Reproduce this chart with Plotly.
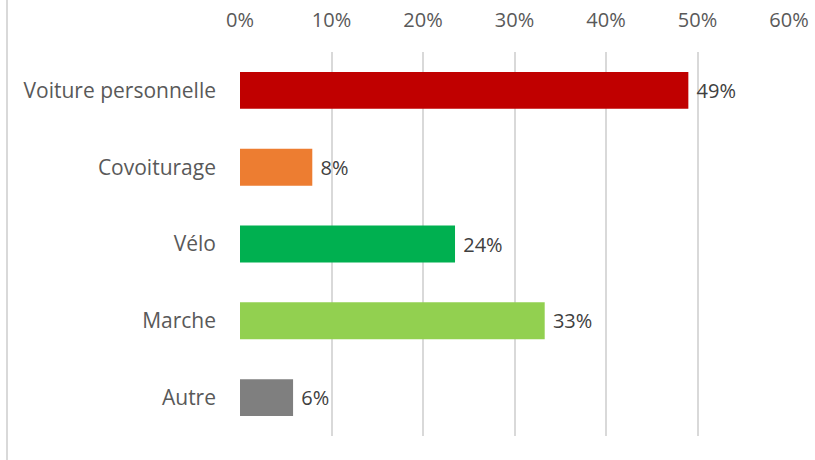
import plotly.graph_objects as go

categories = ["Voiture personnelle", "Covoiturage", "Vélo", "Marche", "Autre"]
shares = [0.49, 0.079, 0.235, 0.333, 0.058]
share_labels = ["49%", "8%", "24%", "33%", "6%"]
bar_colors = ["#C00000", "#ED7D31", "#00B050", "#92D050", "#7F7F7F"]
tick_vals = [0, 0.1, 0.2, 0.3, 0.4, 0.5, 0.6]
tick_text = ["0%", "10%", "20%", "30%", "40%", "50%", "60%"]

FONT = "Open Sans, Noto Sans, sans-serif"

fig = go.Figure()
fig.add_trace(
    go.Bar(
        x=shares,
        y=categories,
        orientation="h",
        marker=dict(color=bar_colors, line=dict(width=0)),
        width=0.48,
        text=share_labels,
        texttemplate=" %{text}",
        textposition="outside",
        textfont=dict(size=20, color="#404040", family=FONT),
        cliponaxis=False,
        hovertemplate="%{y}: %{x:.0%}<extra></extra>",
    )
)

# thin frame line on the left edge
fig.add_shape(
    type="line", xref="paper", yref="paper",
    x0=-0.4244, x1=-0.4244, y0=-0.07, y1=1.15,
    line=dict(color="#D9D9D9", width=2),
)

fig.update_layout(
    width=815, height=460,
    margin=dict(l=240, r=26, t=52, b=24),
    paper_bgcolor="white", plot_bgcolor="white",
    showlegend=False,
    font=dict(family=FONT, size=20, color="#595959"),
)
fig.update_xaxes(
    side="top", range=[0, 0.6], tickvals=tick_vals, ticktext=tick_text,
    showgrid=True, gridcolor="#D9D9D9", gridwidth=1.5,
    zeroline=False, showline=False, ticks="", ticklabelstandoff=20,
    automargin=False,
    tickfont=dict(size=20, color="#595959"),
)
fig.update_yaxes(
    autorange="reversed", showgrid=False, zeroline=False, showline=False,
    ticks="", ticklabelstandoff=23, automargin=False,
    tickfont=dict(size=21, color="#595959"),
)

# page body has a default margin; drop it so the figure sits at the window origin
fig.write_html(
    "out.html",
    config={"displayModeBar": False},
    post_script="document.body.style.margin='0';",
)
